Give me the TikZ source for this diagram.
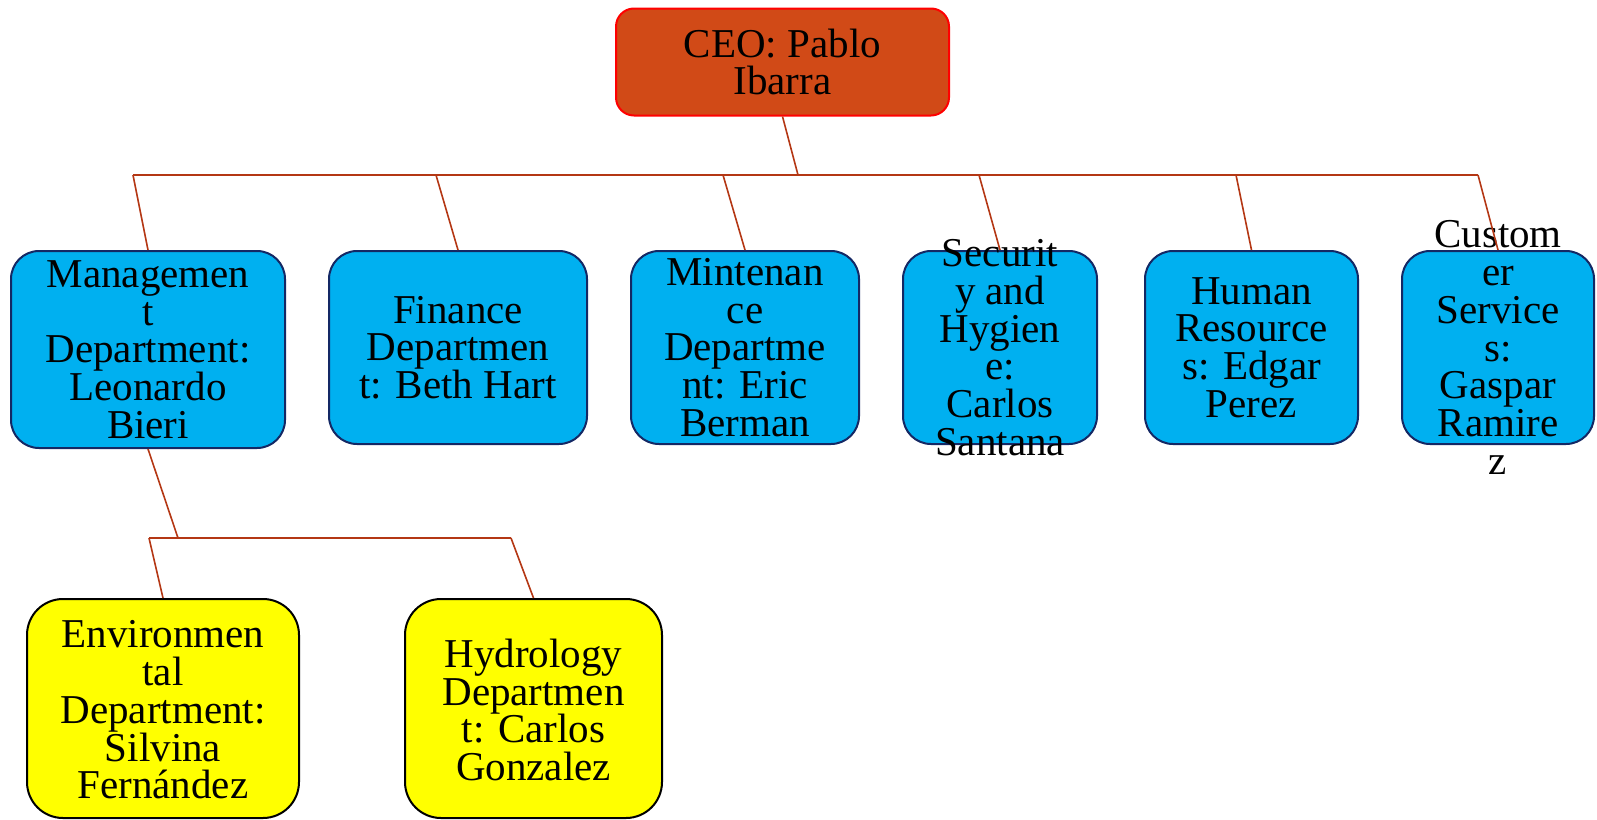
\documentclass[tikz,border=0pt]{standalone}
\usepackage{fontspec}
\setmainfont{Liberation Serif}
\definecolor{ceofill}{RGB}{209,74,23}
\definecolor{ceoline}{RGB}{255,0,0}
\definecolor{deptfill}{RGB}{0,176,240}
\definecolor{deptline}{RGB}{20,40,100}
\definecolor{subfill}{RGB}{255,255,0}
\definecolor{conncol}{RGB}{180,55,20}
\begin{document}
\begin{tikzpicture}[x=1pt,y=-1pt,
  box/.style={draw, line width=2pt, rounded corners=28pt, inner sep=0pt},
  ceobox/.style={box, fill=ceofill, draw=ceoline, rounded corners=18pt},
  deptbox/.style={box, fill=deptfill, draw=deptline},
  subbox/.style={box, fill=subfill, draw=black, rounded corners=36pt},
  txt/.style={align=center, font=\fontsize{41}{37.7}\selectfont, inner sep=0pt},
  conn/.style={draw=conncol, line width=1.6pt}]
\useasboundingbox (0,0) rectangle (1597,819);

% boxes
\node[ceobox, minimum width=333pt, minimum height=107pt] (ceo) at (782.5,62) {};
\node[deptbox, minimum width=274pt, minimum height=197pt] (mgmt) at (148,349.5) {};
\node[deptbox, minimum width=258pt, minimum height=193pt] (fin) at (458,347.5) {};
\node[deptbox, minimum width=228pt, minimum height=193pt] (mint) at (745,347.5) {};
\node[deptbox, minimum width=194pt, minimum height=193pt] (sec) at (1000,347.5) {};
\node[deptbox, minimum width=213pt, minimum height=193pt] (hr) at (1251.5,347.5) {};
\node[deptbox, minimum width=192pt, minimum height=193pt] (cust) at (1498,347.5) {};
\node[subbox, minimum width=272pt, minimum height=219pt] (env) at (163,708.5) {};
\node[subbox, minimum width=257pt, minimum height=219pt] (hydro) at (533.5,708.5) {};

% texts
\node[txt] (ceot) at (ceo.center) {CEO: Pablo\\Ibarra};
\node[txt] (mgmtt) at (mgmt.center) {Managemen\\t\\Department:\\Leonardo\\Bieri};
\node[txt] (fint) at (fin.center) {Finance\\Departmen\\t: Beth Hart};
\node[txt] (mintt) at (mint.center) {Mintenan\\ce\\Departme\\nt: Eric\\Berman};
\node[txt] (sect) at (sec.center) {Securit\\y and\\Hygien\\e:\\Carlos\\Santana};
\node[txt] (hrt) at (hr.center) {Human\\Resource\\s: Edgar\\Perez};
\node[txt] (custt) at (cust.center) {Custom\\er\\Service\\s:\\Gaspar\\Ramire\\z};
\node[txt] (envt) at (163,710) {Environmen\\tal\\Department:\\Silvina\\Fernández};
\node[txt] (hydrot) at (533.5,710) {Hydrology\\Departmen\\t: Carlos\\Gonzalez};

% bus coordinates
\coordinate (bceo) at (798,175);
\coordinate (b1) at (133,175);
\coordinate (b2) at (436,175);
\coordinate (b3) at (723,175);
\coordinate (b4) at (979,175);
\coordinate (b5) at (1236,175);
\coordinate (b6) at (1478,175);
\coordinate (smg) at (178,538);
\coordinate (s1) at (149,538);
\coordinate (s2) at (511,538);

% connectors
\draw[conn] (ceo.south) -- (bceo);
\draw[conn] (b1) -- (b6);
\draw[conn] (b1) -- (mgmt.north);
\draw[conn] (b2) -- (fin.north);
\draw[conn] (b3) -- (mint.north);
\draw[conn] (b4) -- (sec.north);
\draw[conn] (b5) -- (hr.north);
\draw[conn] (b6) -- (cust.north);
\draw[conn] (mgmt.south) -- (smg);
\draw[conn] (s1) -- (s2);
\draw[conn] (s1) -- (env.north);
\draw[conn] (s2) -- (hydro.north);
\end{tikzpicture}
\end{document}
